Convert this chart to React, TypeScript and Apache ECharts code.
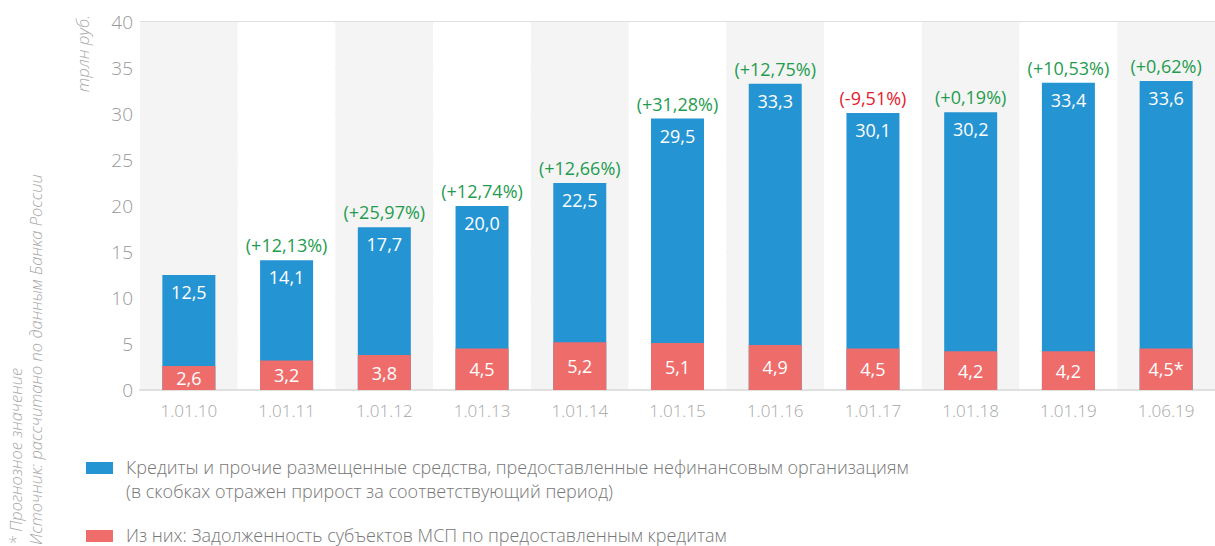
import React, { useEffect, useRef } from "react";
import * as echarts from "echarts";

const categories = ["1.01.10", "1.01.11", "1.01.12", "1.01.13", "1.01.14", "1.01.15", "1.01.16", "1.01.17", "1.01.18", "1.01.19", "1.06.19"];
const totalLoans = [12.5, 14.1, 17.7, 20.0, 22.5, 29.5, 33.3, 30.1, 30.2, 33.4, 33.6];
const smeLoans = [2.6, 3.2, 3.8, 4.5, 5.2, 5.1, 4.9, 4.5, 4.2, 4.2, 4.5];
const smeLabels = ["2,6", "3,2", "3,8", "4,5", "5,2", "5,1", "4,9", "4,5", "4,2", "4,2", "4,5*"];
const growthLabels = ["", "(+12,13%)", "(+25,97%)", "(+12,74%)", "(+12,66%)", "(+31,28%)", "(+12,75%)", "(-9,51%)", "(+0,19%)", "(+10,53%)", "(+0,62%)"];
const yTicks = [0, 5, 10, 15, 20, 25, 30, 35, 40];

const BLUE = "#2594d3";
const RED = "#ee6d6b";
const GREEN = "#1f9c4f";
const NEG = "#e5202b";
const FONT = "'Open Sans', 'Noto Sans', sans-serif";

export default function App() {
  const ref = useRef<HTMLDivElement>(null);
  useEffect(() => {
    if (!ref.current) return;
    const chart = echarts.init(ref.current, null, { renderer: "svg" });
    const fmt = (v: number) => v.toFixed(1).replace(".", ",");
    chart.setOption({
      animation: false,
      textStyle: { fontFamily: FONT },
      grid: { left: 140, right: 0, top: 22, bottom: 156, containLabel: false },
      xAxis: {
        type: "category",
        data: categories,
        axisLine: { show: true, lineStyle: { color: "#e0e0e0", width: 2 } },
        axisTick: { show: false },
        axisLabel: { color: "#a6a6a6", fontSize: 17, fontWeight: 300, margin: 12, fontFamily: FONT },
        splitArea: { show: true, areaStyle: { color: ["#f4f4f4", "#ffffff"] } },
      },
      yAxis: {
        type: "value",
        min: yTicks[0],
        max: yTicks[yTicks.length - 1],
        interval: 5,
        axisLine: { show: false },
        axisTick: { show: false },
        axisLabel: { color: "#999999", fontSize: 19, fontWeight: 300, margin: 7, fontFamily: FONT },
        splitLine: { lineStyle: { color: "#e0e0e0", width: 2 } },
      },
      series: [
        {
          name: "Кредиты и прочие размещенные средства",
          type: "bar",
          data: totalLoans,
          barWidth: 53,
          barGap: "-100%",
          itemStyle: { color: BLUE },
          label: {
            show: true,
            position: "insideTop",
            distance: 8,
            color: "#ffffff",
            fontSize: 18,
            fontFamily: FONT,
            formatter: (p: any) => fmt(p.value),
          },
        },
        {
          name: "Прирост",
          type: "bar",
          data: totalLoans.map((v, i) => ({
            value: v,
            label: { color: growthLabels[i].startsWith("(-") ? NEG : GREEN },
          })),
          barWidth: 53,
          barGap: "-100%",
          itemStyle: { color: "rgba(0,0,0,0)" },
          silent: true,
          label: {
            show: true,
            position: "top",
            distance: 6,
            fontSize: 18,
            fontFamily: FONT,
            formatter: (p: any) => growthLabels[p.dataIndex],
          },
        },
        {
          name: "Из них: Задолженность субъектов МСП",
          type: "bar",
          data: smeLoans,
          barWidth: 53,
          barGap: "-100%",
          itemStyle: { color: RED },
          label: {
            show: true,
            position: "inside",
            color: "#ffffff",
            fontSize: 18,
            fontFamily: FONT,
            formatter: (p: any) => smeLabels[p.dataIndex],
          },
        },
      ],
      graphic: [
        {
          type: "text",
          x: 82,
          y: 15,
          rotation: Math.PI / 2,
          style: {
            text: "трлн руб.",
            fill: "#aaaaaa",
            font: `italic 300 17px ${FONT}`,
            textAlign: "right",
            textVerticalAlign: "middle",
          },
        },
        {
          type: "text",
          x: 15,
          y: 545,
          rotation: Math.PI / 2,
          style: {
            text: "* Прогнозное значение",
            fill: "#aaaaaa",
            font: `italic 300 16.5px ${FONT}`,
            textAlign: "left",
            textVerticalAlign: "middle",
          },
        },
        {
          type: "text",
          x: 35,
          y: 545,
          rotation: Math.PI / 2,
          style: {
            text: "Источник: рассчитано по данным Банка России",
            fill: "#aaaaaa",
            font: `italic 300 16.5px ${FONT}`,
            textAlign: "left",
            textVerticalAlign: "middle",
          },
        },
        { type: "rect", shape: { x: 86, y: 462, width: 27, height: 12 }, style: { fill: BLUE } },
        {
          type: "text",
          x: 126,
          y: 467,
          style: {
            text: "Кредиты и прочие размещенные средства, предоставленные нефинансовым организациям",
            fill: "#777777",
            font: `300 18px ${FONT}`,
            textVerticalAlign: "middle",
          },
        },
        {
          type: "text",
          x: 126,
          y: 491,
          style: {
            text: "(в скобках отражен прирост за соответствующий период)",
            fill: "#777777",
            font: `300 18px ${FONT}`,
            textVerticalAlign: "middle",
          },
        },
        { type: "rect", shape: { x: 86, y: 530, width: 27, height: 12 }, style: { fill: RED } },
        {
          type: "text",
          x: 126,
          y: 535,
          style: {
            text: "Из них: Задолженность субъектов МСП по предоставленным кредитам",
            fill: "#777777",
            font: `300 18px ${FONT}`,
            textVerticalAlign: "middle",
          },
        },
      ],
    });
    return () => chart.dispose();
  }, []);
  return <div ref={ref} style={{ width: 1215, height: 546, position: "absolute", left: 0, top: 0 }} />;
}
